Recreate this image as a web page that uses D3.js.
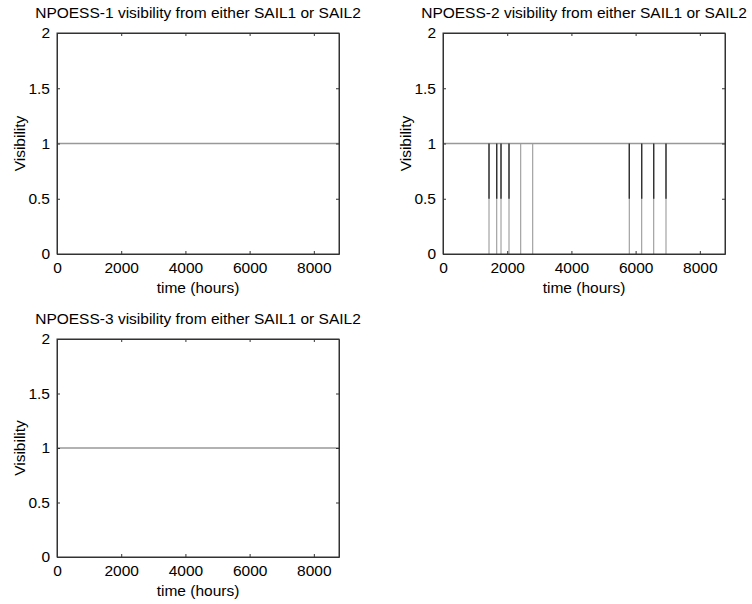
<!DOCTYPE html>
<html>
<head>
<meta charset="utf-8">
<script src="https://cdn.jsdelivr.net/npm/d3@7"></script>
<style>
body { margin: 0; background: #fff; }
text { font-family: "Liberation Sans", Arial, sans-serif; fill: #000; }
</style>
</head>
<body>
<div id="chart"></div>
<script>
// chart data
var titles = ["NPOESS-1 visibility from either SAIL1 or SAIL2",
              "NPOESS-2 visibility from either SAIL1 or SAIL2",
              "NPOESS-3 visibility from either SAIL1 or SAIL2"]
var xTicks = [0, 2000, 4000, 6000, 8000]
var yTicks = [0, 0.5, 1, 1.5, 2]
var yTickLabels = ["0", "0.5", "1", "1.5", "2"]
var timeSpan = [0, 8784]        // hours in the year
var visibilityLevel = [1, 1]    // visible the whole span
// NPOESS-2 drop-outs (hours)
var outageTimes = [1433, 1673, 1807, 2056, 2420, 2794, 5803, 6189, 6563, 6946]
var halfDropTimes = [1433, 1673, 1807, 2056, 5803, 6189, 6563, 6946]

var width = 752
var height = 604
var plot_w = 282
var fsize = 15.5

// where each axes box sits (left, top, height)
var boxes = [[57, 33, 221], [443, 33, 221], [57, 339, 218]]
var outagesPerPanel = [[], outageTimes, []]
var halfPerPanel = [[], halfDropTimes, []]

var svg = d3.select("#chart")
    .append("svg")
    .attr("width", width)
    .attr("height", height)

for (var p = 0; p < 3; p++) {
    draw_panel(p)
}

function draw_panel(p) {
    var left = boxes[p][0], top = boxes[p][1], plot_h = boxes[p][2]
    var g = svg.append("g").attr("transform", "translate(" + left + "," + top + ")")

    var x = d3.scaleLinear().domain(timeSpan).range([0, plot_w])
    var y = d3.scaleLinear().domain([0, 2]).range([plot_h, 0])
    var tick = 3

    // data first, box on top
    var line = d3.line().x(function(d){ return x(d[0]) }).y(function(d){ return y(d[1]) })
    g.append("path")
        .datum(d3.zip(timeSpan, visibilityLevel))
        .attr("d", line)
        .attr("fill", "none")
        .attr("stroke", "#999")
        .attr("stroke-width", 1.3)

    g.selectAll(".drop")
        .data(outagesPerPanel[p])
        .enter().append("line")
        .attr("x1", function(d){ return x(d) })
        .attr("x2", function(d){ return x(d) })
        .attr("y1", y(1))
        .attr("y2", y(0))
        .attr("stroke", "#9a9a9a")
        .attr("stroke-width", 1.1)

    g.selectAll(".half")
        .data(halfPerPanel[p])
        .enter().append("line")
        .attr("x1", function(d){ return x(d) })
        .attr("x2", function(d){ return x(d) })
        .attr("y1", y(1))
        .attr("y2", y(0.5))
        .attr("stroke", "#333")
        .attr("stroke-width", 1.4)

    // axes: ticks pointing inwards, matlab style
    g.append("g")
        .attr("transform", "translate(0," + plot_h + ")")
        .call(d3.axisBottom(x).tickValues(xTicks).tickSizeInner(-tick).tickSizeOuter(0).tickPadding(8)
            .tickFormat(d3.format("d")))
    g.append("g")
        .call(d3.axisTop(x).tickValues(xTicks).tickSizeInner(-tick).tickSizeOuter(0).tickFormat(""))
    g.append("g")
        .call(d3.axisLeft(y).tickValues(yTicks).tickSizeInner(-tick).tickSizeOuter(0).tickPadding(7)
            .tickFormat(function(d, i){ return yTickLabels[i] }))
    g.append("g")
        .attr("transform", "translate(" + plot_w + ",0)")
        .call(d3.axisRight(y).tickValues(yTicks).tickSizeInner(-tick).tickSizeOuter(0).tickFormat(""))

    g.selectAll(".domain").attr("stroke", "#333")
    g.selectAll(".tick line").attr("stroke", "#333")
    g.selectAll(".tick text").attr("font-size", fsize).attr("fill", "#000")
        .style("font-family", "'Liberation Sans', Arial, sans-serif")
    g.append("rect")
        .attr("width", plot_w).attr("height", plot_h)
        .attr("fill", "none").attr("stroke", "#333").attr("stroke-width", 1)

    g.append("text")
        .attr("x", plot_w / 2).attr("y", -15)
        .attr("text-anchor", "middle")
        .attr("font-size", fsize)
        .text(titles[p])
    g.append("text")
        .attr("x", plot_w / 2).attr("y", plot_h + 39)
        .attr("text-anchor", "middle")
        .attr("font-size", fsize)
        .text("time (hours)")
    g.append("text")
        .attr("transform", "translate(-32," + (plot_h / 2) + ") rotate(-90)")
        .attr("text-anchor", "middle")
        .attr("font-size", fsize)
        .text("Visibility")
}
</script>
</body>
</html>
